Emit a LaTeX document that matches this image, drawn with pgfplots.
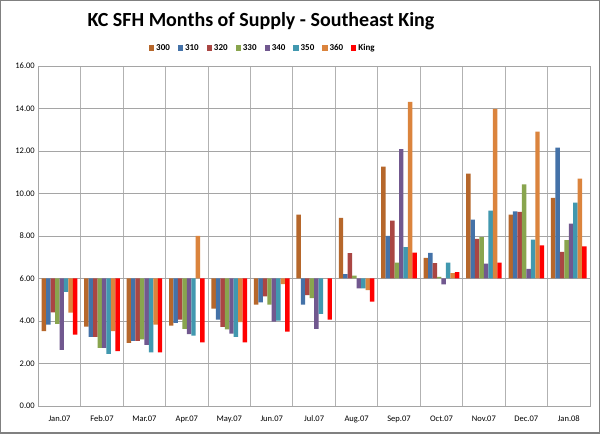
\documentclass[border=0pt]{standalone}
\usepackage{pgfplots}
\pgfplotsset{compat=1.18}
\usepackage{pgfplotstable}
\usepackage{fontspec}
\setmainfont{Carlito}

\definecolor{c300}{RGB}{182,103,43}
\definecolor{c310}{RGB}{68,114,168}
\definecolor{c320}{RGB}{170,70,67}
\definecolor{c330}{RGB}{137,165,78}
\definecolor{c340}{RGB}{113,88,143}
\definecolor{c350}{RGB}{65,152,175}
\definecolor{c360}{RGB}{219,132,61}
\definecolor{cking}{RGB}{255,0,0}
\definecolor{gridc}{RGB}{165,165,165}

\pgfplotstableread{
idx s300 s310 s320 s330 s340 s350 s360 king
0 3.52 3.83 4.41 3.86 2.64 5.37 4.39 3.36
1 3.73 3.25 3.25 2.73 2.73 2.45 3.52 2.58
2 2.97 3.06 3.06 3.14 2.88 2.52 3.83 2.52
3 3.78 3.91 4.06 3.63 3.38 3.31 8.00 3.00
4 4.58 4.06 3.72 3.61 3.41 3.25 3.95 3.00
5 4.77 4.88 5.16 4.77 3.97 4.02 5.73 3.50
6 9.00 4.77 5.22 5.08 3.63 4.34 6.00 4.06
7 8.85 6.20 7.19 6.14 5.53 5.53 5.45 4.91
8 11.26 8.00 8.72 6.75 12.09 7.48 14.31 7.22
9 6.97 7.20 6.72 6.08 5.72 6.75 6.25 6.30
10 10.93 8.77 7.87 7.95 6.70 9.19 13.98 6.75
11 9.00 9.16 9.13 10.43 6.45 7.83 12.91 7.56
12 9.79 12.16 7.25 7.81 8.58 9.57 10.70 7.51
}\data

\begin{document}
\begin{tikzpicture}[x=1pt,y=1pt]
\fill[white] (-38.3,-28) rectangle (561.7,406);
\draw[gray, line width=1.5pt] (-37.55,-27.25) rectangle (560.95,405.25);
\begin{axis}[
  scale only axis, width=551.7pt, height=340pt,
  xmin=-0.5, xmax=12.5, ymin=-6, ymax=10,
  xtick={0,...,12},
  xticklabels={Jan.07,Feb.07,Mar.07,Apr.07,May.07,Jun.07,Jul.07,Aug.07,Sep.07,Oct.07,Nov.07,Dec.07,Jan.08},
  minor xtick={-0.5,0.5,1.5,2.5,3.5,4.5,5.5,6.5,7.5,8.5,9.5,10.5,11.5,12.5},
  xminorgrids, ymajorgrids,
  ytick={-6,-4,-2,0,2,4,6,8,10},
  yticklabels={0.00,2.00,4.00,6.00,8.00,10.00,12.00,14.00,16.00},
  major tick length=0pt, minor tick length=0pt,
  axis line style={gridc, line width=0.8pt},
  major grid style={gridc, line width=0.8pt},
  minor grid style={gridc!85, line width=1pt},
  tick label style={font=\fontsize{8.5}{10}\selectfont},
  xticklabel style={yshift=-6pt},
  ybar, bar width=0.105,
  legend columns=8,
  legend style={at={(rel axis cs:0.407,1.053)}, anchor=center, draw=none, fill=none,
    font=\bfseries\fontsize{9}{10}\selectfont,
    /tikz/every even column/.append style={column sep=6pt}},
  legend image code/.code={\fill[#1] (0pt,-2.6pt) rectangle (5.2pt,2.6pt);},
]
\addplot[fill=c300, draw=none, bar shift=-0.3675] table[x=idx, y expr=\thisrow{s300}-6] {\data};
\addplot[fill=c310, draw=none, bar shift=-0.2625] table[x=idx, y expr=\thisrow{s310}-6] {\data};
\addplot[fill=c320, draw=none, bar shift=-0.1575] table[x=idx, y expr=\thisrow{s320}-6] {\data};
\addplot[fill=c330, draw=none, bar shift=-0.0525] table[x=idx, y expr=\thisrow{s330}-6] {\data};
\addplot[fill=c340, draw=none, bar shift=0.0525] table[x=idx, y expr=\thisrow{s340}-6] {\data};
\addplot[fill=c350, draw=none, bar shift=0.1575] table[x=idx, y expr=\thisrow{s350}-6] {\data};
\addplot[fill=c360, draw=none, bar shift=0.2625] table[x=idx, y expr=\thisrow{s360}-6] {\data};
\addplot[fill=cking, draw=none, bar shift=0.3675] table[x=idx, y expr=\thisrow{king}-6] {\data};
\legend{300,310,320,330,340,350,360,King}
\end{axis}
\node[font=\bfseries\fontsize{20}{22}\selectfont] at (222.7,385) {KC SFH Months of Supply - Southeast King};
\end{tikzpicture}
\end{document}
